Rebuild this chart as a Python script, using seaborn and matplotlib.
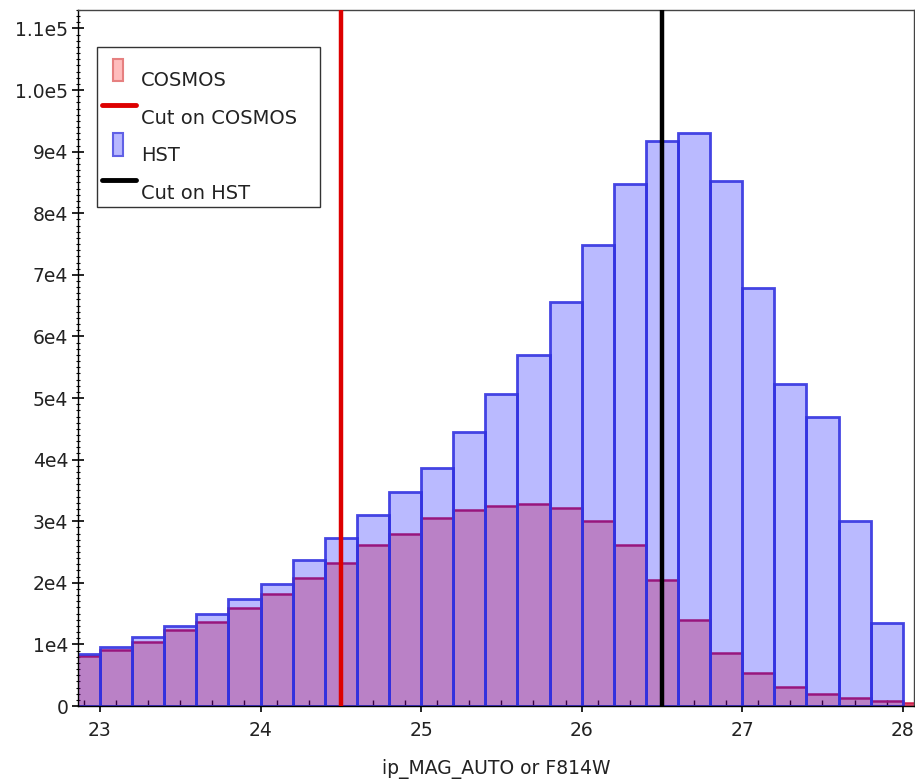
import numpy as np
import pandas as pd
import matplotlib
matplotlib.use("Agg")
import matplotlib.pyplot as plt
import seaborn as sns
from matplotlib.patches import Patch, Rectangle
from matplotlib.lines import Line2D
from matplotlib.legend_handler import HandlerPatch, HandlerLine2D
from matplotlib.ticker import MultipleLocator, FixedLocator, FixedFormatter

# Bin left edges (width 0.2 mag)
cosmos_bins = [22.8, 23.0, 23.2, 23.4, 23.6, 23.8, 24.0, 24.2, 24.4, 24.6, 24.8, 25.0, 25.2, 25.4,
               25.6, 25.8, 26.0, 26.2, 26.4, 26.6, 26.8, 27.0, 27.2, 27.4, 27.6, 27.8, 28.0]
cosmos_counts = [8100, 9100, 10400, 12300, 13700, 15900, 18200, 20800, 23200, 26200, 27900, 30500,
                 31900, 32500, 32800, 32100, 30000, 26100, 20400, 13900, 8600, 5300, 3100, 1900,
                 1300, 800, 500]
hst_bins = [22.8, 23.0, 23.2, 23.4, 23.6, 23.8, 24.0, 24.2, 24.4, 24.6, 24.8, 25.0, 25.2, 25.4,
            25.6, 25.8, 26.0, 26.2, 26.4, 26.6, 26.8, 27.0, 27.2, 27.4, 27.6, 27.8]
hst_counts = [8400, 9600, 11200, 13000, 14900, 17300, 19800, 23700, 27200, 31000, 34700, 38700,
              44500, 50600, 57000, 65600, 74800, 84800, 91800, 93000, 85200, 67900, 52200, 47000,
              30000, 13400]
bin_width = 0.2
cut_cosmos = 24.5
cut_hst = 26.5
ytick_vals = [0, 1e4, 2e4, 3e4, 4e4, 5e4, 6e4, 7e4, 8e4, 9e4, 1.0e5, 1.1e5]
ytick_labels = ["0", "1e4", "2e4", "3e4", "4e4", "5e4", "6e4", "7e4", "8e4", "9e4", "1.0e5", "1.1e5"]
xlabel = "ip_MAG_AUTO or F814W"
legend_labels = ["COSMOS", "Cut on COSMOS", "HST", "Cut on HST"]

sns.set_style("ticks")
plt.rcParams['font.family'] = ['DejaVu Sans']

FS = 13.5
FSL = 14
fig = plt.figure(figsize=(9.15, 7.81), dpi=100)
ax = fig.add_axes([78 / 915, 75 / 781, (914 - 78) / 915, (706 - 10) / 781])

df_c = pd.DataFrame({"x": np.array(cosmos_bins) + bin_width / 2, "w": cosmos_counts})
df_h = pd.DataFrame({"x": np.array(hst_bins) + bin_width / 2, "w": hst_counts})

sns.histplot(data=df_c, x="x", weights="w", binwidth=bin_width,
             binrange=(cosmos_bins[0], cosmos_bins[-1] + bin_width), ax=ax,
             color=(1.0, 0.0, 0.0), alpha=0.30, edgecolor=(0.82, 0.12, 0.3), linewidth=1.8)
sns.histplot(data=df_h, x="x", weights="w", binwidth=bin_width,
             binrange=(hst_bins[0], hst_bins[-1] + bin_width), ax=ax,
             facecolor=(0.0, 0.0, 1.0, 0.27), edgecolor=(0.2, 0.2, 0.88, 0.9), linewidth=2.0)

ax.axvline(cut_cosmos, color="#dd0000", lw=3.2, zorder=5)
ax.axvline(cut_hst, color="black", lw=3.2, zorder=5)

ax.set_xlim(22.863, 28.07)
ax.set_ylim(0, 113000)
ax.set_xlabel(xlabel, fontsize=FS, color="#222222", labelpad=14)
ax.set_ylabel("")

ax.xaxis.set_major_locator(MultipleLocator(1))
ax.xaxis.set_minor_locator(MultipleLocator(0.1))
ax.yaxis.set_major_locator(FixedLocator(ytick_vals))
ax.yaxis.set_major_formatter(FixedFormatter(ytick_labels))
ax.yaxis.set_minor_locator(MultipleLocator(1000))
ax.tick_params(axis="x", which="major", direction="inout", length=9, width=1.2, labelsize=FS,
               pad=6, color="black", labelcolor="#222222", bottom=True, top=False)
ax.tick_params(axis="x", which="minor", direction="in", length=4, width=1.0, color="black",
               bottom=True, top=False)
ax.tick_params(axis="y", which="major", direction="inout", length=8, width=1.2, labelsize=FS,
               pad=3, color="black", labelcolor="#222222", left=True, right=False)
ax.tick_params(axis="y", which="minor", direction="inout", length=3, width=0.8, color="black",
               left=True, right=False)
for s in ax.spines.values():
    s.set_visible(True)
    s.set_color("#444444")
    s.set_linewidth(1.0)
ax.spines["left"].set_color("black")
ax.spines["bottom"].set_color("black")


def narrow_patch(legend, orig_handle, xdescent, ydescent, width, height, fontsize):
    return Rectangle((-xdescent + 0.57 * fontsize, -ydescent + height / 2 - 0.1 * fontsize),
                     0.52 * fontsize, 1.18 * fontsize)


class RaisedLine(HandlerLine2D):
    def create_artists(self, legend, orig_handle, xdescent, ydescent, width, height,
                       fontsize, trans):
        arts = super().create_artists(legend, orig_handle, xdescent, ydescent, width,
                                      height, fontsize, trans)
        for a in arts:
            y = np.asarray(a.get_ydata(), dtype=float)
            a.set_ydata(y + 0.57 * fontsize)
        return arts


handles = [
    Patch(facecolor=(1, 0.74, 0.74), edgecolor=(0.9, 0.5, 0.5), linewidth=1.5),
    Line2D([0], [0], color="#dd0000", lw=3.5),
    Patch(facecolor=(0.72, 0.72, 1.0), edgecolor=(0.38, 0.38, 0.9), linewidth=1.5),
    Line2D([0], [0], color="black", lw=3.5),
]
leg = ax.legend(handles, legend_labels, loc="upper left",
                bbox_to_anchor=(0.0227, 0.947 - 0.1, (320 - 97) / 836, 0.1), mode="expand",
                fontsize=FSL, frameon=True, fancybox=False, edgecolor="black",
                title=" ", title_fontsize=1,
                handlelength=1.75, handleheight=0.9, labelspacing=0.95, borderpad=0.25,
                borderaxespad=0.0, handletextpad=0.26,
                handler_map={Patch: HandlerPatch(patch_func=narrow_patch),
                             Line2D: RaisedLine()})
leg.get_frame().set_linewidth(1.0)
for t in leg.get_texts():
    t.set_color("#222222")

fig.savefig("out.png", dpi=100)
